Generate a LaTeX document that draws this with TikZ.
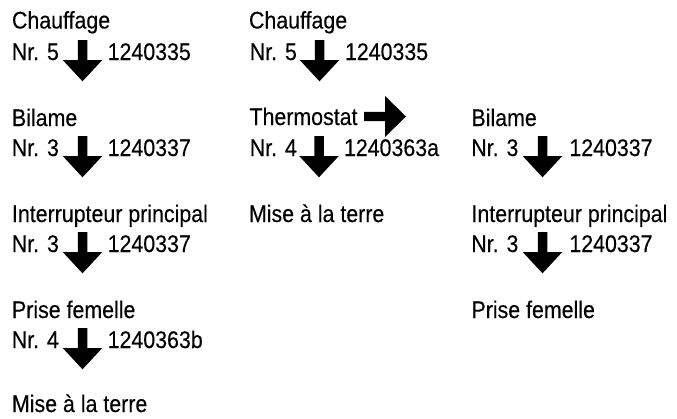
\documentclass[tikz,border=0pt]{standalone}
\usepackage{fontspec}
\setmainfont{Liberation Sans}[FakeStretch=0.89,FakeBold=0.2]
\begin{document}
\begin{tikzpicture}[x=1pt,y=-1pt,
  lbl/.style={anchor=base west,inner sep=0pt,outer sep=0pt,font=\fontsize{24}{28}\selectfont,text=black},
  downarrow/.pic={\fill[black] (-4.75,-20) -- (4.75,-20) -- (4.75,0) -- (19.8,0) -- (0,21.3) -- (-19.8,0) -- (-4.75,0) -- cycle;},
  rightarrow/.pic={\fill[black] (-21,-4.6) -- (0,-4.6) -- (0,-20.5) -- (21,0) -- (0,20.5) -- (0,4.6) -- (-21,4.6) -- cycle;}]
\useasboundingbox[fill=white] (0,0) rectangle (677,418);
% left column
\node[lbl] (a1) at (12,28.5) {Chauffage};
\node[lbl] (a1n) at (11.8,60) {Nr. 5};
\node[lbl] (a1c) at (107.7,60) {1240335};
\pic at (82.5,60) {downarrow};
\node[lbl] (a2) at (12,126) {Bilame};
\node[lbl] (a2n) at (11.8,156) {Nr. 3};
\node[lbl] (a2c) at (107.7,156) {1240337};
\pic at (82.5,156) {downarrow};
\node[lbl] (a3) at (12,222) {Interrupteur principal};
\node[lbl] (a3n) at (11.8,252) {Nr. 3};
\node[lbl] (a3c) at (107.7,252) {1240337};
\pic at (82.5,252) {downarrow};
\node[lbl] (a4) at (12,318) {Prise femelle};
\node[lbl] (a4n) at (11.8,348) {Nr. 4};
\node[lbl] (a4c) at (107.7,348) {1240363b};
\pic at (82.5,348) {downarrow};
\node[lbl] (a5) at (12,412) {Mise à la terre};
% middle column
\node[lbl] (b1) at (249,28.5) {Chauffage};
\node[lbl] (b1n) at (249.8,60) {Nr. 5};
\node[lbl] (b1c) at (345,60) {1240335};
\pic at (319.5,60) {downarrow};
\node[lbl] (b2) at (249.5,125) {Thermostat};
\pic at (385,116.5) {rightarrow};
\node[lbl] (b2n) at (249.8,156) {Nr. 4};
\node[lbl] (b2c) at (344,156) {1240363a};
\pic at (319,156) {downarrow};
\node[lbl] (b3) at (249,222) {Mise à la terre};
% right column
\node[lbl] (c1) at (471.5,126) {Bilame};
\node[lbl] (c1n) at (471.3,156) {Nr. 3};
\node[lbl] (c1c) at (569.4,156) {1240337};
\pic at (542.5,156) {downarrow};
\node[lbl] (c2) at (471.5,222) {Interrupteur principal};
\node[lbl] (c2n) at (471.3,252) {Nr. 3};
\node[lbl] (c2c) at (569.4,252) {1240337};
\pic at (542.5,252) {downarrow};
\node[lbl] (c3) at (471.5,318) {Prise femelle};
\end{tikzpicture}
\end{document}
